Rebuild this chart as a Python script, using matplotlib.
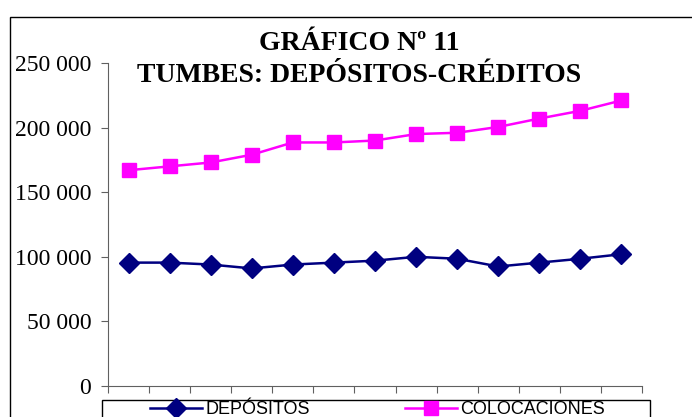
import matplotlib.pyplot as plt
from matplotlib.patches import Rectangle
from matplotlib.lines import Line2D
from matplotlib.ticker import FuncFormatter

periodos = list(range(1, 14))
depositos = [95500, 95500, 94000, 91000, 94000, 95500, 97000, 100000, 98500, 92500, 95500, 98500, 102000]
colocaciones = [167000, 170000, 173000, 179000, 188500, 188500, 190000, 195000, 196000, 200500, 207000, 213000, 221000]
series = ['DEPÓSITOS', 'COLOCACIONES']

W, H = 692, 417
fig = plt.figure(figsize=(W / 100, H / 100), dpi=100)

# marco exterior del grafico
fig.patches.append(Rectangle((10 / W, -0.1), 1.0, 1 - 17 / H + 0.1, transform=fig.transFigure,
                             fill=False, edgecolor='black', linewidth=1.0))

ax = fig.add_axes([108 / W, 1 - 386 / H, (642 - 108) / W, (386 - 63) / H])
ax.plot(periodos, depositos, color='#000080', marker='D', markersize=10, linewidth=1.8)
ax.plot(periodos, colocaciones, color='#FF00FF', marker='s', markersize=10, linewidth=1.8)

ax.set_xlim(0.5, 13.5)
ax.set_ylim(0, 250000)
ax.set_yticks(range(0, 250001, 50000))
ax.yaxis.set_major_formatter(FuncFormatter(lambda v, p: f'{int(v):,}'.replace(',', ' ')))
ax.set_xticks([i + 0.5 for i in range(0, 14)])
ax.set_xticklabels([])
ax.tick_params(axis='x', length=5, direction='out', color='#606060')
ax.tick_params(axis='y', length=5, direction='out', color='#606060', labelsize=17, pad=7)
for lbl in ax.get_yticklabels():
    lbl.set_fontfamily('Liberation Serif')
ax.spines['top'].set_visible(False)
ax.spines['right'].set_visible(False)
for s in ['left', 'bottom']:
    ax.spines[s].set_color('#606060')

fig.text(359 / W, 1 - 43 / H, 'GRÁFICO Nº 11', ha='center', va='center',
         fontfamily='Liberation Serif', fontweight='bold', fontsize=20)
fig.text(359 / W, 1 - 76 / H, 'TUMBES: DEPÓSITOS-CRÉDITOS', ha='center', va='center',
         fontfamily='Liberation Serif', fontweight='bold', fontsize=20)

# leyenda en recuadro inferior
fig.patches.append(Rectangle((102 / W, -0.1), (650 - 102) / W, 0.1 + 1 - 400 / H,
                             transform=fig.transFigure, fill=False, edgecolor='black', linewidth=1.0))
handles = [Line2D([0], [0], color='#000080', marker='D', markersize=10, linewidth=1.8),
           Line2D([0], [0], color='#FF00FF', marker='s', markersize=10, linewidth=1.8)]
anchors = [150, 405]
for h, nombre, x0 in zip(handles, series, anchors):
    leg = fig.legend([h], [nombre], loc='center left', bbox_to_anchor=(x0 / W, 1 - 410 / H),
                     frameon=False, handlelength=2.9, handletextpad=0.15, borderpad=0,
                     borderaxespad=0, prop={'family': 'Liberation Sans', 'size': 13})

fig.savefig('out.png', dpi=100)
